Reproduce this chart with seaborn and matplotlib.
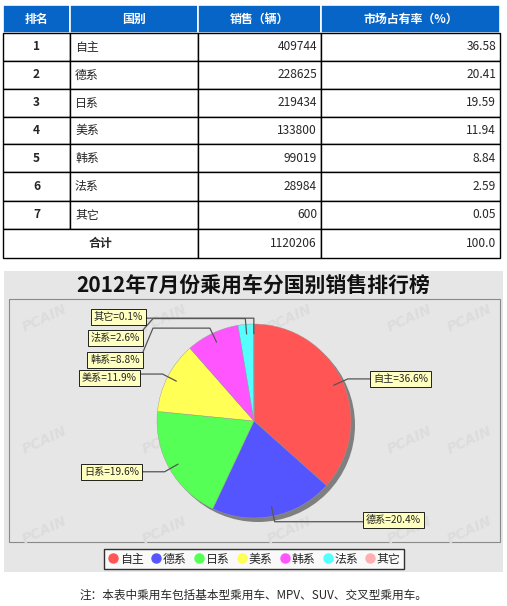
import numpy as np
import pandas as pd
import seaborn as sns
import matplotlib.pyplot as plt
from matplotlib.patches import Rectangle, Circle
from matplotlib.lines import Line2D

# --- Data ---
RANKS = ['1', '2', '3', '4', '5', '6', '7']
COUNTRIES = ['自主', '德系', '日系', '美系', '韩系', '法系', '其它']
SALES = [409744, 228625, 219434, 133800, 99019, 28984, 600]
SHARES = ['36.58', '20.41', '19.59', '11.94', '8.84', '2.59', '0.05']
TOTAL_LABEL = '合计'
TOTAL_SALES = '1120206'
TOTAL_SHARE = '100.0'
HEADERS = ['排名', '国别', '销售（辆）', '市场占有率（%）']
TITLE = '2012年7月份乘用车分国别销售排行榜'
NOTE = '注：本表中乘用车包括基本型乘用车、MPV、SUV、交叉型乘用车。'
PIE_COLORS = ['#FF5555', '#5555FF', '#55FF55', '#FFFF55', '#FF55FF', '#55FFFF', '#FFAFAF']

# --- Layout (pixels) ---
W, H = 507, 606
COL_X = [3, 70, 198, 321, 500]
ROW_Y = [5, 33, 61, 89, 117, 144, 172, 201, 229, 258]
HEADER_BLUE = '#0865C8'
CX, CY, R = 254, 421, 97
# label boxes: (side, edge x, centre y)
LABEL_POS = [('R', 370, 379), ('R', 363, 520), ('L', 142, 472), ('L', 140, 378),
             ('L', 143, 360), ('L', 143, 338), ('L', 146, 317)]
BOX_HALF = 8

sns.set_theme(style='white')
plt.rcParams['font.family'] = ['Noto Sans CJK SC', 'DejaVu Sans']

fig = plt.figure(figsize=(W / 100, H / 100), dpi=100)
ax = fig.add_axes([0, 0, 1, 1])

# --- Table ---
fs_tab = 8.6
for i, head in enumerate(HEADERS):
    ax.add_patch(Rectangle((COL_X[i], ROW_Y[0]), COL_X[i + 1] - COL_X[i], ROW_Y[1] - ROW_Y[0],
                           fc=HEADER_BLUE, ec='white', lw=1.2))
    ax.text((COL_X[i] + COL_X[i + 1]) / 2, (ROW_Y[0] + ROW_Y[1]) / 2, head, color='white',
            fontsize=fs_tab, fontweight='bold', ha='center', va='center')

for r in range(len(RANKS)):
    y0, y1 = ROW_Y[r + 1], ROW_Y[r + 2]
    ym = (y0 + y1) / 2
    for i in range(4):
        ax.add_patch(Rectangle((COL_X[i], y0), COL_X[i + 1] - COL_X[i], y1 - y0,
                               fc='white', ec='black', lw=1))
    ax.text((COL_X[0] + COL_X[1]) / 2, ym, RANKS[r], fontsize=fs_tab, fontweight='bold',
            ha='center', va='center')
    ax.text(COL_X[1] + 5, ym, COUNTRIES[r], fontsize=fs_tab, ha='left', va='center')
    ax.text(COL_X[3] - 4, ym, str(SALES[r]), fontsize=fs_tab, ha='right', va='center')
    ax.text(COL_X[4] - 4, ym, SHARES[r], fontsize=fs_tab, ha='right', va='center')

y0, y1 = ROW_Y[-2], ROW_Y[-1]
ym = (y0 + y1) / 2
ax.add_patch(Rectangle((COL_X[0], y0), COL_X[2] - COL_X[0], y1 - y0, fc='white', ec='black', lw=1))
ax.add_patch(Rectangle((COL_X[2], y0), COL_X[3] - COL_X[2], y1 - y0, fc='white', ec='black', lw=1))
ax.add_patch(Rectangle((COL_X[3], y0), COL_X[4] - COL_X[3], y1 - y0, fc='white', ec='black', lw=1))
ax.text((COL_X[0] + COL_X[2]) / 2, ym, TOTAL_LABEL, fontsize=fs_tab, fontweight='bold',
        ha='center', va='center')
ax.text(COL_X[3] - 4, ym, TOTAL_SALES, fontsize=fs_tab, ha='right', va='center')
ax.text(COL_X[4] - 4, ym, TOTAL_SHARE, fontsize=fs_tab, ha='right', va='center')

# --- Chart panel ---
ax.add_patch(Rectangle((4, 271), 499, 301, fc='#E6E6E6', ec='none', zorder=0))
ax.add_patch(Rectangle((9, 299), 491, 243, fc='none', ec='#8A8A8A', lw=0.8, zorder=1))

# faint watermark
for wx in [45, 165, 290, 410, 470]:
    for wy in [318, 440, 530]:
        ax.text(wx, wy, 'PCAIN', fontsize=10, fontstyle='italic', fontweight='bold',
                color='#DCDCDC', rotation=25, ha='center', va='center', zorder=1,
                family='DejaVu Sans')

ax.text(W / 2, 285, TITLE, fontsize=15.0, fontweight='bold', ha='center', va='center',
        color='#111111', zorder=3)

# pie shadow + pie (y axis is inverted, so counterclock draws clockwise on screen)
ax.add_patch(Circle((CX + 4, CY + 4), R, fc='#7F7F7F', ec='none', zorder=2))
wedges, _ = ax.pie(SALES, colors=PIE_COLORS, startangle=-90, counterclock=True,
                   center=(CX, CY), radius=R, frame=True,
                   wedgeprops=dict(lw=0.3, ec='#999999', zorder=3))

# labels with link lines
total = float(sum(SALES))
for k, (side, ex, ey) in enumerate(LABEL_POS):
    w = wedges[k]
    mid = np.deg2rad((w.theta1 + w.theta2) / 2)
    p0 = (CX + 0.9 * R * np.cos(mid), CY + 0.9 * R * np.sin(mid))
    p1 = (CX + 1.06 * R * np.cos(mid), CY + 1.06 * R * np.sin(mid))
    ay = min(max(p1[1], ey - BOX_HALF), ey + BOX_HALF)
    off = 10 if side == 'L' else -10
    p2 = (ex + off, p1[1])
    xs = [p0[0], p1[0], p2[0], ex]
    ys = [p0[1], p1[1], p2[1], ay]
    ax.plot(xs, ys, color='#555555', lw=0.9, zorder=4)
    txt = f'{COUNTRIES[k]}={SALES[k] / total * 100:.1f}%'
    if side == 'L':
        ax.text(ex - 3, ey, txt, fontsize=7.3, ha='right', va='center', zorder=5,
                bbox=dict(boxstyle='square,pad=0.3', fc='#FFFFC0', ec='black', lw=0.6))
    else:
        ax.text(ex + 3, ey, txt, fontsize=7.3, ha='left', va='center', zorder=5,
                bbox=dict(boxstyle='square,pad=0.3', fc='#FFFFC0', ec='black', lw=0.6))

# legend
handles = [Line2D([], [], marker='o', ls='', color=c, markersize=6.5) for c in PIE_COLORS]
leg = ax.legend(handles, COUNTRIES, ncol=7, loc='center', bbox_to_anchor=(254 / W, 1 - 559 / H),
                frameon=True, fancybox=False, fontsize=8.6, handletextpad=0.05,
                columnspacing=0.55, borderpad=0.3, handlelength=1.0)
leg.get_frame().set_edgecolor('black')
leg.get_frame().set_linewidth(1.0)
leg.get_frame().set_facecolor('white')
leg.set_zorder(6)

# footnote
ax.text(W / 2, 595, NOTE, fontsize=8.4, ha='center', va='center')

ax.set_xlim(0, W)
ax.set_ylim(H, 0)
ax.set_aspect('auto')
ax.axis('off')

fig.savefig('out.png', dpi=100)
